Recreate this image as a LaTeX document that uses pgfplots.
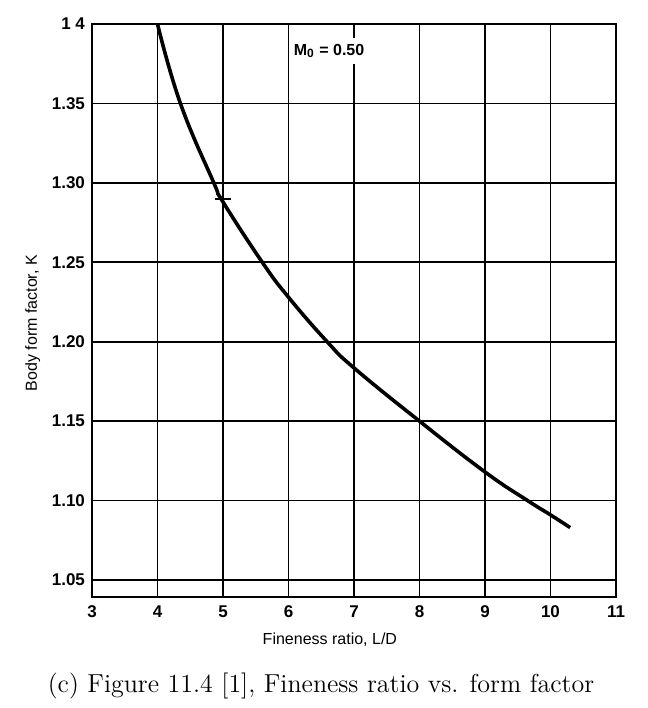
\documentclass[border=0pt]{standalone}
\usepackage{fontspec}
\setsansfont{Liberation Sans}
\usepackage{pgfplots}
\pgfplotsset{compat=1.18}

\begin{document}
\begin{tikzpicture}
% page size: 648 x 708 px at 0.5pt per px
\path[use as bounding box] (-46pt,-55.5pt) rectangle (278pt,298.5pt);
\begin{axis}[
    at={(0,0)}, anchor=origin,
    scale only axis,
    width=262pt, height=286.5pt,
    xmin=3, xmax=11, ymin=1.0393, ymax=1.40,
    xtick={3,4,...,11},
    ytick={1.05,1.10,1.15,1.20,1.25,1.30,1.35,1.40},
    yticklabels={1.05,1.10,1.15,1.20,1.25,1.30,1.35,1 4},
    major tick length=0pt,
    grid=major,
    major grid style={black, line width=0.9pt},
    axis line style={black, line width=1.4pt},
    tick label style={font=\sffamily\bfseries\fontsize{8.5}{10}\selectfont},
    /pgf/number format/assume math mode=true,
    xticklabel style={yshift=-1pt},
    xlabel={Fineness ratio, L/D},
    ylabel={Body form factor, K},
    label style={font=\sffamily\fontsize{8}{10}\selectfont},
    xlabel style={at={(axis description cs:0.454,-0.075)}, anchor=center},
    ylabel style={at={(axis description cs:-0.113,0.478)}, anchor=center},
    clip=false,
]
\addplot[black, line width=1.8pt, smooth, tension=0.75] coordinates {
    (4.00,1.400) (4.35,1.350) (4.86,1.300) (5.00,1.288) (5.60,1.250)
    (6.00,1.228) (6.59,1.200) (7.00,1.1835) (8.00,1.150) (9.00,1.118)
    (9.65,1.100) (10.00,1.091) (10.30,1.083)
};
% small cross mark on the curve at L/D = 5
\addplot[black, line width=0.9pt, mark=-, mark size=4pt, only marks] coordinates {(5.00,1.290)};
\node[fill=white, inner xsep=2pt, inner ysep=3pt, font=\sffamily\bfseries\fontsize{8}{10}\selectfont]
    at (axis cs:6.62,1.383) {M\textsubscript{0} = 0.50};
\end{axis}
\node[font=\fontsize{13}{15}\selectfont] at (114.5pt,-44.5pt)
    {(c) Figure 11.4 [1], Fineness ratio vs. form factor};
\end{tikzpicture}
\end{document}
